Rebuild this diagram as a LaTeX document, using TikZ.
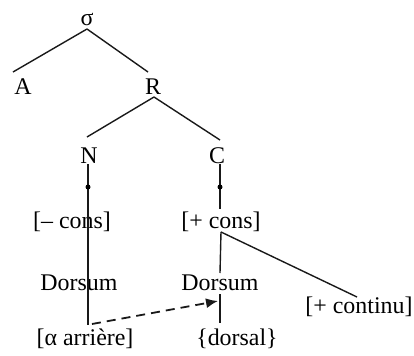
\documentclass[tikz,border=0pt]{standalone}
\usepackage{fontspec}
\setmainfont{Liberation Serif}
\usetikzlibrary{arrows.meta}
\begin{document}
\begin{tikzpicture}[x=1bp,y=-1bp,
  lbl/.style={inner sep=0pt,anchor=base,font=\fontsize{24}{28}\selectfont},
  edge/.style={line width=1.4bp,black!90},
  dotm/.style={fill=black,inner sep=0pt,minimum size=5bp,circle}]
\useasboundingbox (0,0) rectangle (414,356);
% labels
\node[lbl] (sigma) at (87,25) {σ};
\node[lbl] (A) at (23,94) {A};
\node[lbl] (R) at (153,94) {R};
\node[lbl] (N) at (89,163) {N};
\node[lbl] (C) at (217,163) {C};
\node[lbl] (mcons) at (72,228) {[– cons]};
\node[lbl] (pcons) at (221,228) {[+ cons]};
\node[lbl] (dorsL) at (79,290) {Dorsum};
\node[lbl] (dorsR) at (220,290) {Dorsum};
\node[lbl] (alpha) at (85,345) {[α arrière]};
\node[lbl] (dorsal) at (237,345) {\{dorsal\}};
\node[lbl] (contin) at (359,313) {[+ continu]};
% connector end points
\coordinate (sBot) at (87,29);
\coordinate (aTop) at (13,72);
\coordinate (rTop) at (148,72);
\coordinate (rBot) at (154,97);
\coordinate (nTop) at (87,137);
\coordinate (cTop) at (220,140);
\coordinate (nBot) at (88,164);
\coordinate (lEnd) at (88,325);
\coordinate (cBot) at (220,164);
\coordinate (pcTop) at (220,209);
\coordinate (pcBot) at (221,232);
\coordinate (drTop) at (220,273);
\coordinate (drBot) at (220,294);
\coordinate (rEnd) at (220,323);
\coordinate (ctTop) at (357,297);
\coordinate (dStart) at (92,324);
\coordinate (dTip) at (218,301);
% tree lines
\draw[edge] (sBot) -- (aTop);
\draw[edge] (sBot) -- (rTop);
\draw[edge] (rBot) -- (nTop);
\draw[edge] (rBot) -- (cTop);
\draw[edge] (nBot) -- (lEnd);
\draw[edge] (cBot) -- (pcTop);
\draw[edge] (pcBot) -- (drTop);
\draw[edge] (drBot) -- (rEnd);
\draw[edge] (pcBot) -- (ctTop);
% dots
\node[dotm] (dotL) at (88,187) {};
\node[dotm] (dotR) at (220,187) {};
% dashed arrow
\draw[edge,line width=1.8bp,dash pattern=on 9bp off 6bp,-{Latex[length=12bp,width=10bp]}] (dStart) -- (dTip);
\end{tikzpicture}
\end{document}
